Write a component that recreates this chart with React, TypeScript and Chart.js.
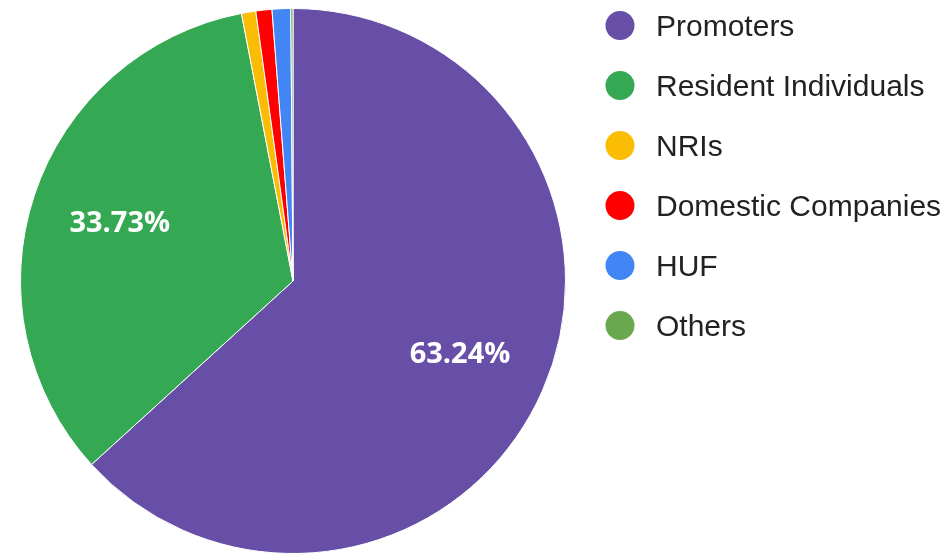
import React, { useEffect, useRef } from "react";
import { Chart, registerables } from "chart.js";

Chart.register(...registerables);

const categories: string[] = [
  "Promoters",
  "Resident Individuals",
  "NRIs",
  "Domestic Companies",
  "HUF",
  "Others",
];
const shareValues: number[] = [63.24, 33.73, 0.85, 0.95, 1.1, 0.13];
const sliceColors: string[] = [
  "#674ea7",
  "#34a853",
  "#fbbc04",
  "#ff0000",
  "#4285f4",
  "#6aa84f",
];

const sliceLabelPlugin = {
  id: "sliceLabels",
  afterDatasetsDraw(chart: any) {
    const meta = chart.getDatasetMeta(0);
    const data = chart.data.datasets[0].data as number[];
    const ctx = chart.ctx;
    ctx.save();
    ctx.fillStyle = "#ffffff";
    ctx.font = "bold 29px 'Open Sans', 'DejaVu Sans', sans-serif";
    ctx.textAlign = "center";
    ctx.textBaseline = "middle";
    meta.data.forEach((arc: any, i: number) => {
      const v = data[i];
      if (v < 5) return;
      const p = arc.getProps(["x", "y", "startAngle", "endAngle", "outerRadius"], true);
      const mid = (p.startAngle + p.endAngle) / 2;
      const r = p.outerRadius * 0.67;
      ctx.fillText(v.toFixed(2) + "%", p.x + Math.cos(mid) * r, p.y + Math.sin(mid) * r);
    });
    ctx.restore();
  },
};

const sideLegendPlugin = {
  id: "sideLegend",
  afterDraw(chart: any) {
    const ctx = chart.ctx;
    const labels = chart.data.labels as string[];
    const colors = chart.data.datasets[0].backgroundColor as string[];
    ctx.save();
    ctx.font = "30px 'Liberation Sans', Arial, sans-serif";
    ctx.textAlign = "left";
    ctx.textBaseline = "alphabetic";
    labels.forEach((label, i) => {
      const cy = 25.5 + 60 * i;
      ctx.beginPath();
      ctx.arc(620, cy, 14.5, 0, Math.PI * 2);
      ctx.fillStyle = colors[i];
      ctx.fill();
      ctx.fillStyle = "#222222";
      ctx.fillText(label, 656, cy + 10);
    });
    ctx.restore();
  },
};

export default function App() {
  const canvasRef = useRef<HTMLCanvasElement | null>(null);

  useEffect(() => {
    if (!canvasRef.current) return;
    const chart = new Chart(canvasRef.current, {
      type: "pie",
      data: {
        labels: categories,
        datasets: [
          {
            data: shareValues,
            backgroundColor: sliceColors,
            borderColor: "#ffffff",
            borderWidth: 1,
          },
        ],
      },
      options: {
        responsive: false,
        animation: false,
        layout: { padding: { left: 20, top: 8, right: 383, bottom: 1 } },
        plugins: {
          legend: { display: false },
          tooltip: { enabled: false },
        },
      },
      plugins: [sliceLabelPlugin, sideLegendPlugin],
    });
    return () => chart.destroy();
  }, []);

  return (
    <div style={{ position: "absolute", left: 0, top: 0, width: 949, height: 555, background: "#ffffff" }}>
      <canvas ref={canvasRef} width={949} height={555} />
    </div>
  );
}
